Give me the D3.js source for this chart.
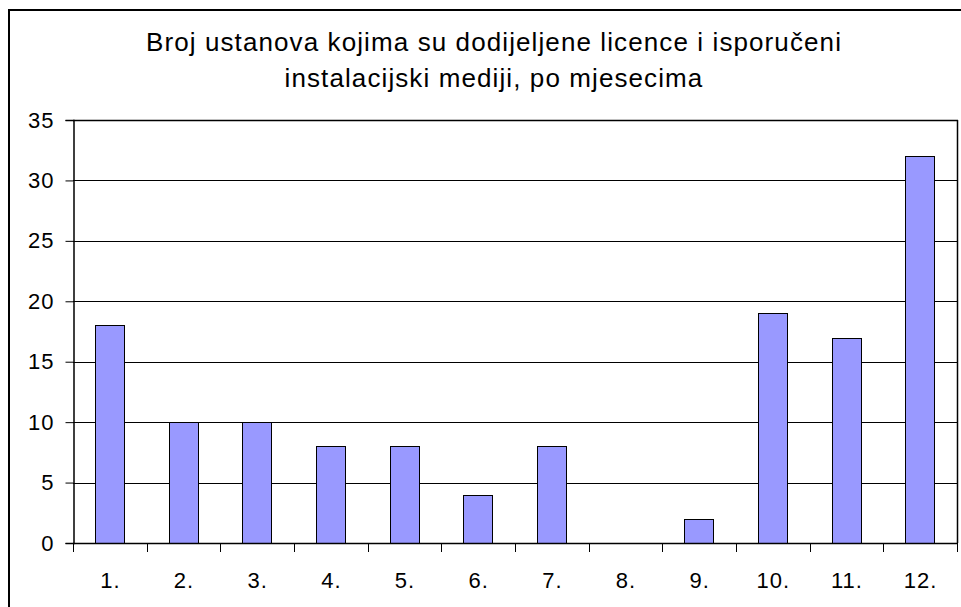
<!DOCTYPE html>
<html>
<head>
<meta charset="utf-8">
<script src="https://cdn.jsdelivr.net/npm/d3@7"></script>
<style>
  html, body { margin: 0; padding: 0; background: #fff; }
  svg { display: block; }
  text { font-family: "Liberation Sans", Arial, sans-serif; fill: #000; }
</style>
</head>
<body>
<svg id="chart" width="961" height="607"></svg>
<script>
const titleLines = ["Broj ustanova kojima su dodijeljene licence i isporučeni", "instalacijski mediji, po mjesecima"];
const categories = ["1.", "2.", "3.", "4.", "5.", "6.", "7.", "8.", "9.", "10.", "11.", "12."];
const values = [18, 10, 10, 8, 8, 4, 8, 0, 2, 19, 17, 32];
const yTicks = [0, 5, 10, 15, 20, 25, 30, 35];

const svg = d3.select("#chart");
const L = 73, R = 957, T = 120, B = 543;

// outer chart border
svg.append("rect").attr("x", 9).attr("y", 10).attr("width", 980).attr("height", 620)
  .attr("fill", "#fff").attr("stroke", "#000").attr("stroke-width", 2);

// title
svg.append("text").attr("x", 494).attr("y", 51).attr("text-anchor", "middle")
  .attr("font-size", 26).attr("letter-spacing", 1.1).text(titleLines[0]);
svg.append("text").attr("x", 494).attr("y", 87).attr("text-anchor", "middle")
  .attr("font-size", 26).attr("letter-spacing", 1.1).text(titleLines[1]);

const x = d3.scaleBand().domain(categories).range([L, R]).paddingInner(0.6).paddingOuter(0.3);
const y = d3.scaleLinear().domain([0, 35]).range([B, T]);

// gridlines
svg.append("g").selectAll("line").data(yTicks.filter(d => d > 0)).join("line")
  .attr("x1", L).attr("x2", R)
  .attr("y1", d => Math.round(y(d)) + 0.5).attr("y2", d => Math.round(y(d)) + 0.5)
  .attr("stroke", "#000").attr("stroke-width", 1);

// plot area right & top border
svg.append("line").attr("x1", R + 0.5).attr("x2", R + 0.5).attr("y1", T).attr("y2", B)
  .attr("stroke", "#000").attr("stroke-width", 1.5);
svg.append("line").attr("x1", L).attr("x2", R + 1).attr("y1", T + 0.5).attr("y2", T + 0.5)
  .attr("stroke", "#000").attr("stroke-width", 1.5);

// bars
svg.append("g").selectAll("rect").data(values).join("rect")
  .attr("x", (d, i) => Math.round(x(categories[i])) + 0.5)
  .attr("y", d => Math.round(y(d)) + 0.5)
  .attr("width", Math.round(x.bandwidth()))
  .attr("height", d => Math.round(y(0)) - Math.round(y(d)))
  .attr("fill", "#9999ff").attr("stroke", "#000").attr("stroke-width", 1)
  .attr("display", d => d > 0 ? null : "none");

// y axis
const yAxis = d3.axisLeft(y).tickValues(yTicks).tickSize(8).tickPadding(11);
const gy = svg.append("g").attr("transform", `translate(${L + 0.5},0)`).call(yAxis);
gy.select(".domain").attr("stroke", "#000").attr("stroke-width", 1.5);
gy.selectAll(".tick line").attr("stroke", "#000");
gy.selectAll(".tick text").attr("font-size", 22).attr("letter-spacing", 1)
  .attr("font-family", "Liberation Sans, Arial, sans-serif").attr("fill", "#000");

// x axis
const boundaries = d3.range(categories.length + 1).map(i => L + i * (R - L) / categories.length);
const gx = svg.append("g");
gx.append("line").attr("x1", L).attr("x2", R + 1).attr("y1", B + 0.5).attr("y2", B + 0.5)
  .attr("stroke", "#000").attr("stroke-width", 1.5);
gx.selectAll("line.t").data(boundaries).join("line").attr("class", "t")
  .attr("x1", d => Math.round(d) + 0.5).attr("x2", d => Math.round(d) + 0.5)
  .attr("y1", B).attr("y2", B + 9).attr("stroke", "#000");
gx.selectAll("text").data(categories).join("text")
  .attr("x", d => x(d) + x.bandwidth() / 2 + 0.5).attr("y", 588)
  .attr("text-anchor", "middle").attr("font-size", 22).attr("letter-spacing", 1).text(d => d);
</script>
</body>
</html>
